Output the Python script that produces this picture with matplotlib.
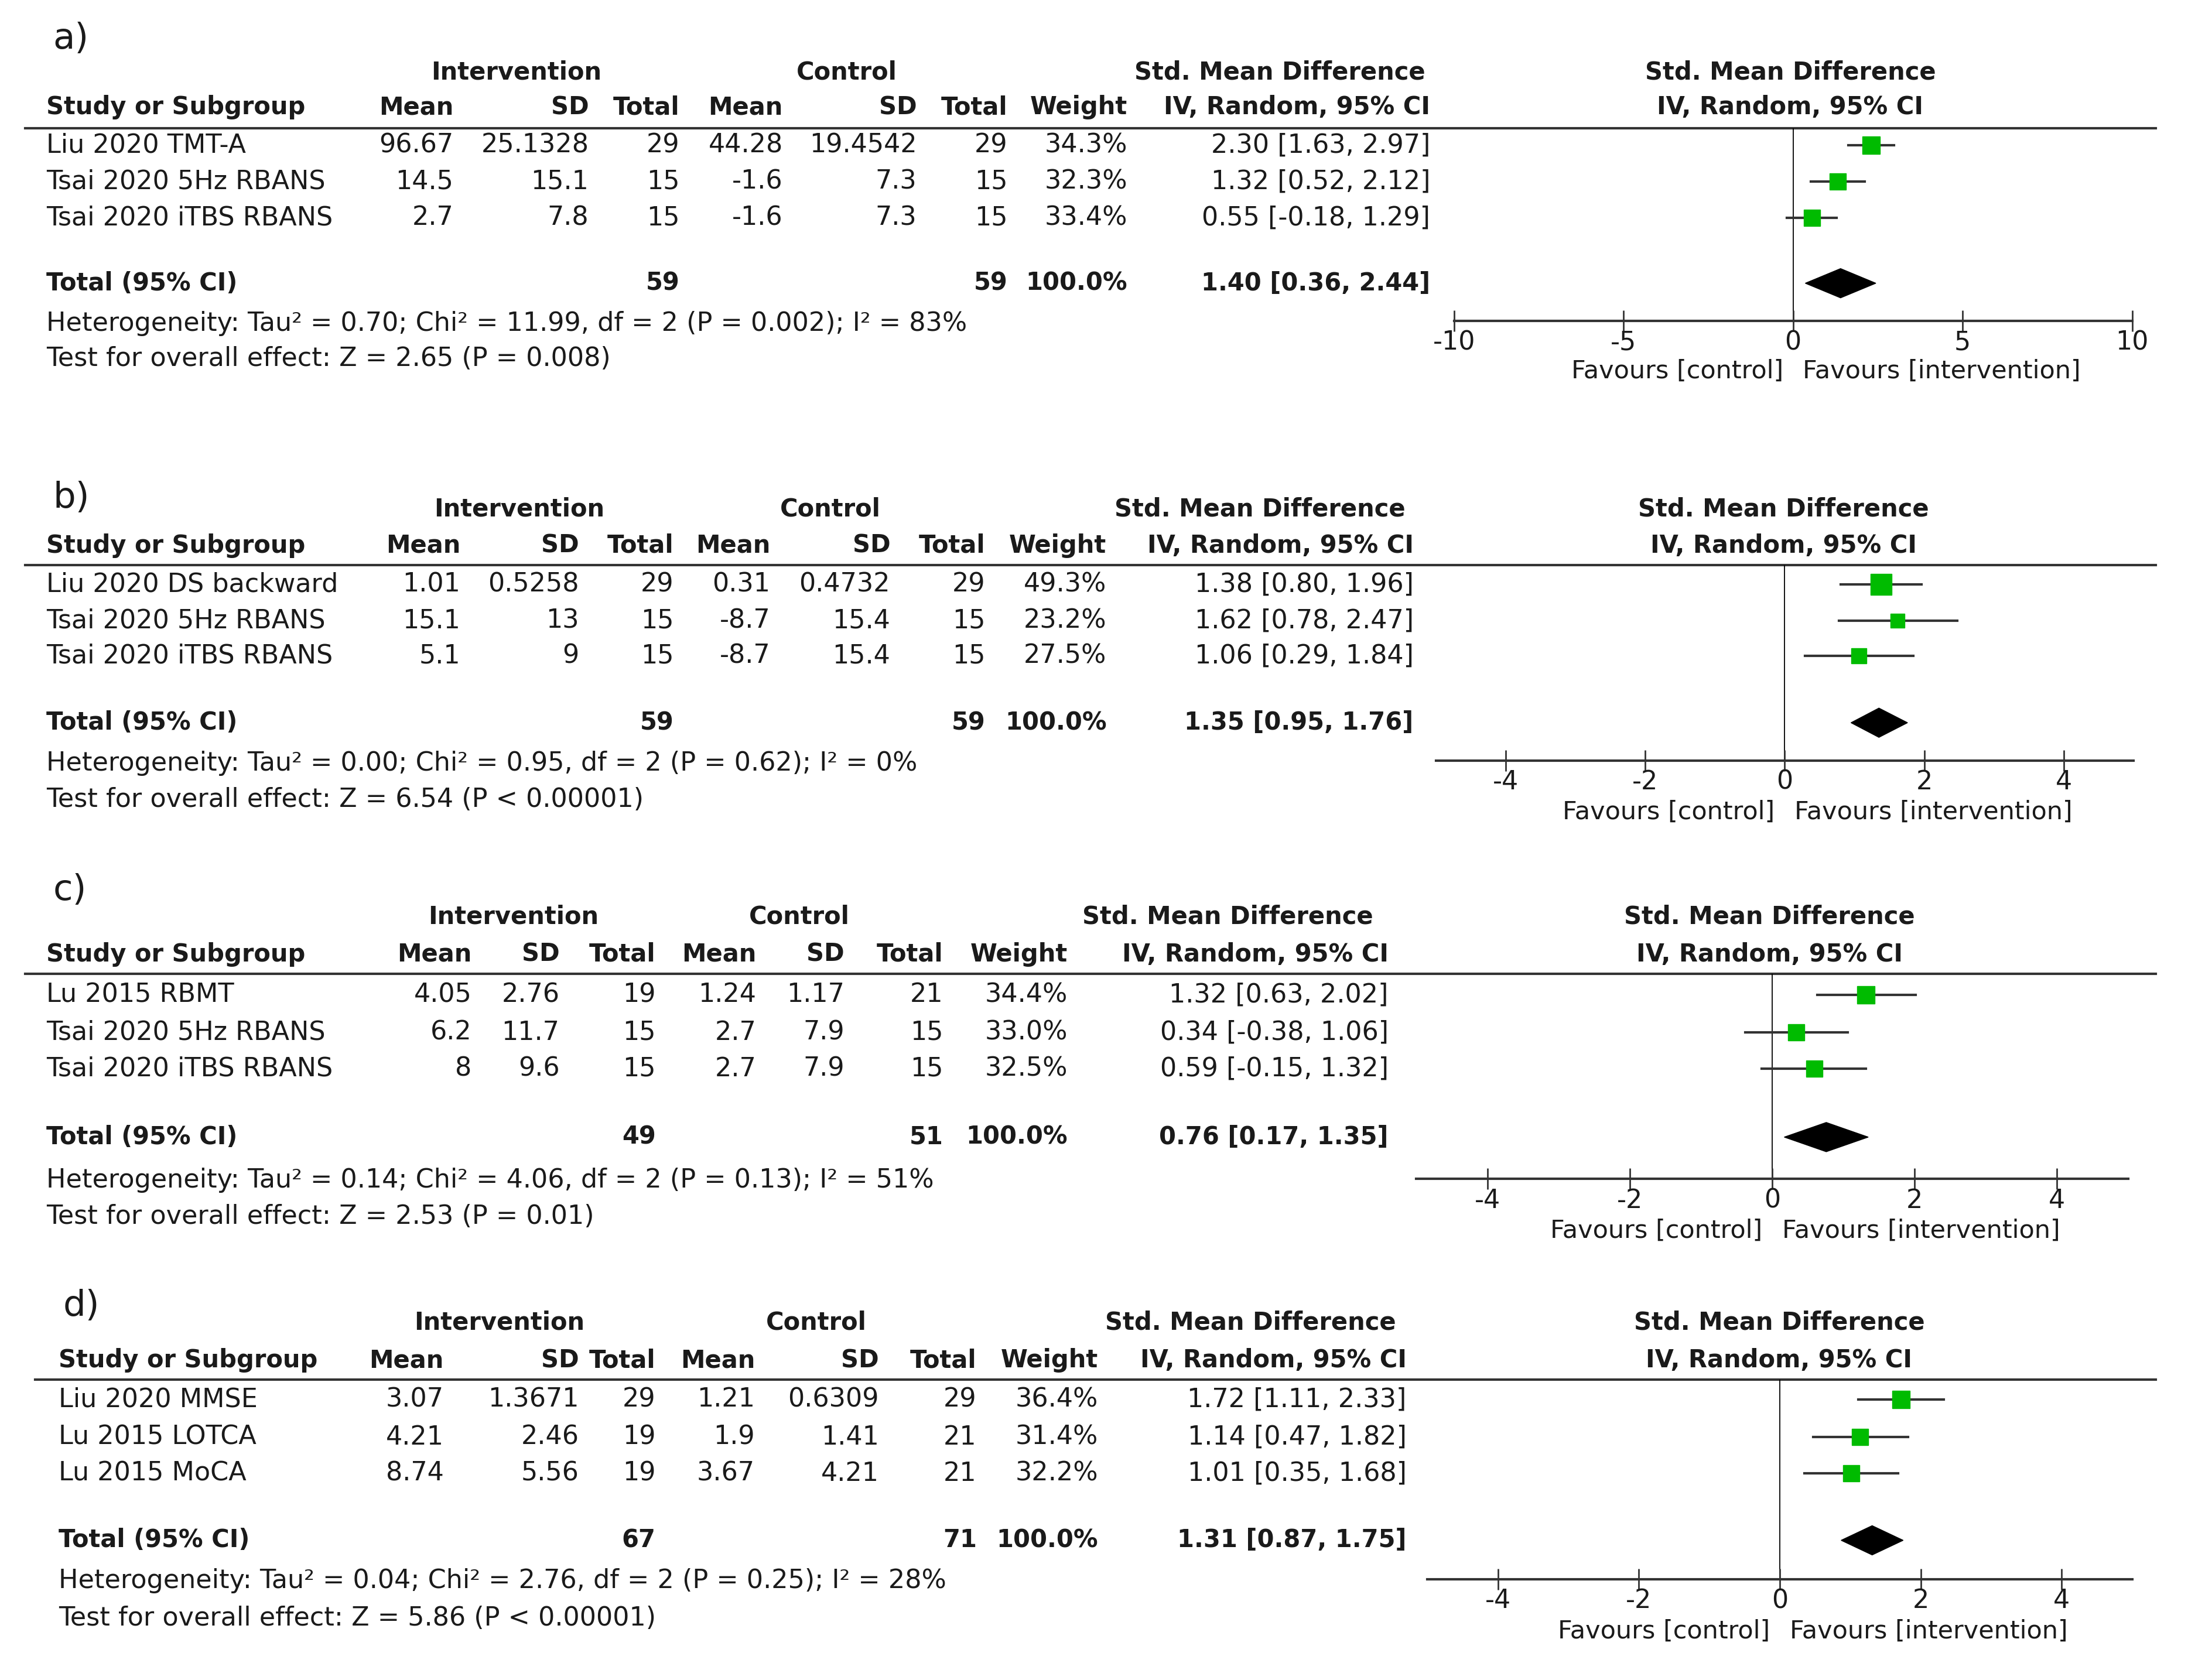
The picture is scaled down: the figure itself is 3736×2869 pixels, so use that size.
import matplotlib
matplotlib.use('Agg')
import matplotlib.pyplot as plt
from matplotlib.patches import Polygon
import numpy as np

# ---- data, panel a ----
studies_a = ["Liu 2020 TMT-A", "Tsai 2020 5Hz RBANS", "Tsai 2020 iTBS RBANS"]
int_mean_a = [96.67, 14.5, 2.7]
int_sd_a = [25.1328, 15.1, 7.8]
int_n_a = [29, 15, 15]
ctl_mean_a = [44.28, -1.6, -1.6]
ctl_sd_a = [19.4542, 7.3, 7.3]
ctl_n_a = [29, 15, 15]
weight_a = [34.3, 32.3, 33.4]
smd_a = [2.30, 1.32, 0.55]
lo_a = [1.63, 0.52, -0.18]
hi_a = [2.97, 2.12, 1.29]
total_a = [1.40, 0.36, 2.44]
het_a = "Heterogeneity: Tau² = 0.70; Chi² = 11.99, df = 2 (P = 0.002); I² = 83%"
test_a = "Test for overall effect: Z = 2.65 (P = 0.008)"

# ---- data, panel b ----
studies_b = ["Liu 2020 DS backward", "Tsai 2020 5Hz RBANS", "Tsai 2020 iTBS RBANS"]
int_mean_b = [1.01, 15.1, 5.1]
int_sd_b = [0.5258, 13, 9]
int_n_b = [29, 15, 15]
ctl_mean_b = [0.31, -8.7, -8.7]
ctl_sd_b = [0.4732, 15.4, 15.4]
ctl_n_b = [29, 15, 15]
weight_b = [49.3, 23.2, 27.5]
smd_b = [1.38, 1.62, 1.06]
lo_b = [0.80, 0.78, 0.29]
hi_b = [1.96, 2.47, 1.84]
total_b = [1.35, 0.95, 1.76]
het_b = "Heterogeneity: Tau² = 0.00; Chi² = 0.95, df = 2 (P = 0.62); I² = 0%"
test_b = "Test for overall effect: Z = 6.54 (P < 0.00001)"

# ---- data, panel c ----
studies_c = ["Lu 2015 RBMT", "Tsai 2020 5Hz RBANS", "Tsai 2020 iTBS RBANS"]
int_mean_c = [4.05, 6.2, 8]
int_sd_c = [2.76, 11.7, 9.6]
int_n_c = [19, 15, 15]
ctl_mean_c = [1.24, 2.7, 2.7]
ctl_sd_c = [1.17, 7.9, 7.9]
ctl_n_c = [21, 15, 15]
weight_c = [34.4, 33.0, 32.5]
smd_c = [1.32, 0.34, 0.59]
lo_c = [0.63, -0.38, -0.15]
hi_c = [2.02, 1.06, 1.32]
total_c = [0.76, 0.17, 1.35]
het_c = "Heterogeneity: Tau² = 0.14; Chi² = 4.06, df = 2 (P = 0.13); I² = 51%"
test_c = "Test for overall effect: Z = 2.53 (P = 0.01)"

# ---- data, panel d ----
studies_d = ["Liu 2020 MMSE", "Lu 2015 LOTCA", "Lu 2015 MoCA"]
int_mean_d = [3.07, 4.21, 8.74]
int_sd_d = [1.3671, 2.46, 5.56]
int_n_d = [29, 19, 19]
ctl_mean_d = [1.21, 1.9, 3.67]
ctl_sd_d = [0.6309, 1.41, 4.21]
ctl_n_d = [29, 21, 21]
weight_d = [36.4, 31.4, 32.2]
smd_d = [1.72, 1.14, 1.01]
lo_d = [1.11, 0.47, 0.35]
hi_d = [2.33, 1.82, 1.68]
total_d = [1.31, 0.87, 1.75]
het_d = "Heterogeneity: Tau² = 0.04; Chi² = 2.76, df = 2 (P = 0.25); I² = 28%"
test_d = "Test for overall effect: Z = 5.86 (P < 0.00001)"

panel_labels = ["a)", "b)", "c)", "d)"]
ticks_a = [-10, -5, 0, 5, 10]
ticks_bcd = [-4, -2, 0, 2, 4]

# ---- layout (measured on a 1568 px wide copy of the reference) ----
W, H = 3736, 2869
S = W / 1568

layouts = [
    dict(label=(38, 28), grp=(370, 607, 917, 1283), y_grp=52, y_hdr=77,
         cols=(325, 422, 487, 561, 657, 722, 808, 1025), x_name=33,
         y_line=92, line_x=(18, 1545), rows=(104, 130, 156), y_total=203,
         y_het=232, y_test=257, axis=(1042, 1528, 230), xlim=(-10, 10), y_fav=266),
    dict(label=(38, 357), grp=(372, 595, 903, 1278), y_grp=365, y_hdr=391,
         cols=(330, 415, 483, 552, 638, 706, 793, 1013), x_name=33,
         y_line=405, line_x=(18, 1545), rows=(419, 445, 470), y_total=518,
         y_het=547, y_test=573, axis=(1029, 1529, 545), xlim=(-5, 5), y_fav=582),
    dict(label=(38, 638), grp=(368, 573, 880, 1268), y_grp=657, y_hdr=684,
         cols=(338, 401, 470, 542, 605, 676, 765, 995), x_name=33,
         y_line=698, line_x=(18, 1545), rows=(713, 740, 766), y_total=815,
         y_het=846, y_test=872, axis=(1015, 1525, 845), xlim=(-5, 5), y_fav=882),
    dict(label=(45, 936), grp=(358, 585, 896, 1275), y_grp=948, y_hdr=975,
         cols=(318, 415, 470, 541, 630, 700, 787, 1008), x_name=42,
         y_line=989, line_x=(25, 1545), rows=(1003, 1030, 1056), y_total=1104,
         y_het=1133, y_test=1160, axis=(1023, 1528, 1132), xlim=(-5, 5), y_fav=1169),
]

panels = [
    (studies_a, int_mean_a, int_sd_a, int_n_a, ctl_mean_a, ctl_sd_a, ctl_n_a,
     weight_a, smd_a, lo_a, hi_a, total_a, het_a, test_a, ticks_a),
    (studies_b, int_mean_b, int_sd_b, int_n_b, ctl_mean_b, ctl_sd_b, ctl_n_b,
     weight_b, smd_b, lo_b, hi_b, total_b, het_b, test_b, ticks_bcd),
    (studies_c, int_mean_c, int_sd_c, int_n_c, ctl_mean_c, ctl_sd_c, ctl_n_c,
     weight_c, smd_c, lo_c, hi_c, total_c, het_c, test_c, ticks_bcd),
    (studies_d, int_mean_d, int_sd_d, int_n_d, ctl_mean_d, ctl_sd_d, ctl_n_d,
     weight_d, smd_d, lo_d, hi_d, total_d, het_d, test_d, ticks_bcd),
]

plt.rcParams['font.family'] = 'DejaVu Sans'
plt.rcParams['axes.unicode_minus'] = False

FS = 32       # body text
FSB = 30      # bold headers
FSF = 31      # favours labels
TXT = '#1a1a1a'
LINE = '#333333'
GREEN = '#00bb00'

fig = plt.figure(figsize=(W / 100, H / 100), dpi=100)
bg = fig.add_axes([0, 0, 1, 1])
bg.set_xlim(0, W)
bg.set_ylim(H, 0)
bg.axis('off')


def put(x, y, s, ha='left', bold=False, size=None):
    if size is None:
        size = FSB if bold else FS
    bg.text(x * S, y * S, s, ha=ha, va='center', fontsize=size,
            fontweight='bold' if bold else 'normal', color=TXT)


for lab, lay, p in zip(panel_labels, layouts, panels):
    (names, im, isd, inn, cm, csd, cn, wts, est, lo, hi, tot, het, test, ticks) = p
    cols = lay['cols']

    put(lay['label'][0], lay['label'][1], lab, size=44)

    # group headers
    g = lay['grp']
    put(g[0], lay['y_grp'], "Intervention", ha='center', bold=True)
    put(g[1], lay['y_grp'], "Control", ha='center', bold=True)
    put(g[2], lay['y_grp'], "Std. Mean Difference", ha='center', bold=True)
    put(g[3], lay['y_grp'], "Std. Mean Difference", ha='center', bold=True)

    # column headers
    put(lay['x_name'], lay['y_hdr'], "Study or Subgroup", bold=True)
    for x, h in zip(cols, ["Mean", "SD", "Total", "Mean", "SD", "Total", "Weight",
                           "IV, Random, 95% CI"]):
        put(x, lay['y_hdr'], h, ha='right', bold=True)
    put(g[3], lay['y_hdr'], "IV, Random, 95% CI", ha='center', bold=True)

    bg.plot([lay['line_x'][0] * S, lay['line_x'][1] * S],
            [lay['y_line'] * S] * 2, color=LINE, lw=3)

    # study rows
    for i, y in enumerate(lay['rows']):
        put(lay['x_name'], y, names[i])
        vals = [str(im[i]), str(isd[i]), str(inn[i]), str(cm[i]), str(csd[i]),
                str(cn[i]), f"{wts[i]:.1f}%",
                f"{est[i]:.2f} [{lo[i]:.2f}, {hi[i]:.2f}]"]
        for x, v in zip(cols, vals):
            put(x, y, v, ha='right')

    # total row
    yt = lay['y_total']
    put(lay['x_name'], yt, "Total (95% CI)", bold=True)
    put(cols[2], yt, str(sum(inn)), ha='right', bold=True)
    put(cols[5], yt, str(sum(cn)), ha='right', bold=True)
    put(cols[6], yt, "100.0%", ha='right', bold=True)
    put(cols[7], yt, f"{tot[0]:.2f} [{tot[1]:.2f}, {tot[2]:.2f}]", ha='right', bold=True)
    put(lay['x_name'], lay['y_het'], het)
    put(lay['x_name'], lay['y_test'], test)

    # forest plot axes
    x0, x1, yax = lay['axis']
    ax = fig.add_axes([x0 * S / W, 1 - yax * S / H,
                       (x1 - x0) * S / W, (yax - lay['y_line']) * S / H])
    ax.patch.set_alpha(0)
    ax.set_xlim(*lay['xlim'])
    ax.set_ylim(yax * S, lay['y_line'] * S)
    for sp in ['top', 'left', 'right']:
        ax.spines[sp].set_visible(False)
    ax.spines['bottom'].set_color(LINE)
    ax.spines['bottom'].set_linewidth(3)
    ax.set_yticks([])
    ax.set_xticks(ticks)
    ax.set_xticklabels([str(t) for t in ticks])
    ax.tick_params(axis='x', direction='inout', length=26, width=2, color=LINE,
                   labelsize=FS, labelcolor=TXT, pad=-2)
    ax.axvline(0, color='black', lw=1.3, zorder=1)

    for i, y in enumerate(lay['rows']):
        ax.plot([lo[i], hi[i]], [y * S, y * S], color=LINE, lw=3, zorder=2)
        ax.plot(est[i], y * S, marker='s', ms=3.6 * np.sqrt(wts[i]),
                color=GREEN, mec=GREEN, zorder=3)

    h = 25
    ax.add_patch(Polygon([(tot[1], yt * S), (tot[0], yt * S - h),
                          (tot[2], yt * S), (tot[0], yt * S + h)],
                         closed=True, color='black', zorder=3))

    dy = (lay['y_fav'] - yax) * S * 72 / 100
    gap = 7 * S * 72 / 100
    ax.annotate("Favours [control]", xy=(0, 0), xycoords=('data', 'axes fraction'),
                xytext=(-gap, -dy), textcoords='offset points', ha='right',
                va='center', fontsize=FSF, color=TXT)
    ax.annotate("Favours [intervention]", xy=(0, 0), xycoords=('data', 'axes fraction'),
                xytext=(gap, -dy), textcoords='offset points', ha='left',
                va='center', fontsize=FSF, color=TXT)

fig.savefig('out.png', dpi=100)
